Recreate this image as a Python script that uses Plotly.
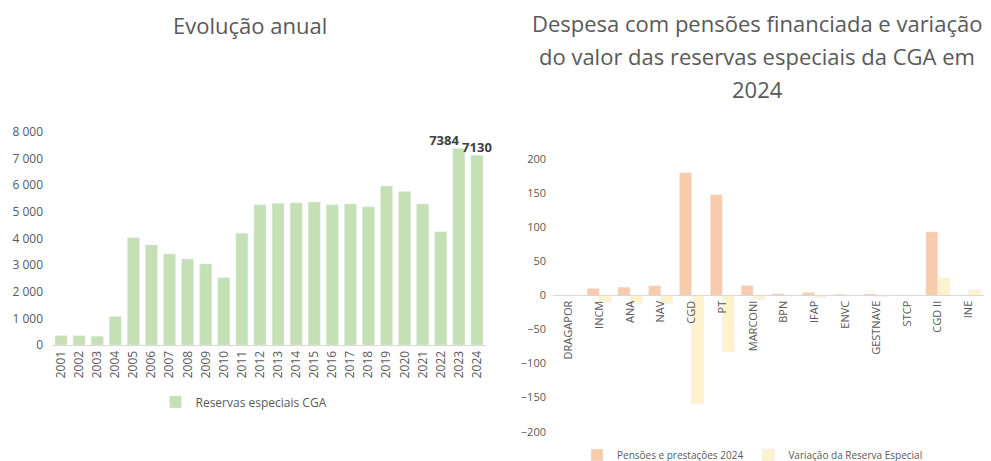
import plotly.graph_objects as go

# ---- Data ----
years = [str(y) for y in range(2001, 2025)]
reservas = [350, 350, 330, 1070, 4030, 3760, 3420, 3230, 3045, 2530, 4200, 5265,
            5325, 5340, 5375, 5265, 5300, 5190, 5975, 5765, 5300, 4250, 7384, 7130]
labelled_years = ["2023", "2024"]
label_positions = ["top left", "top center"]

entidades = ["DRAGAPOR", "INCM", "ANA", "NAV", "CGD", "PT", "MARCONI", "BPN", "IFAP",
             "ENVC", "GESTNAVE", "STCP", "CGD II", "INE"]
pensoes = [0, 10, 12, 14, 180, 147.5, 14.5, 2.4, 4, 1.5, 2, 0, 93, 0]
variacao = [0, -10, -12, -12, -159, -83, -6, -0.5, -3, -0.5, -2, 0, 25, 8]

title_left = "Evolução anual"
title_right_lines = ["Despesa com pensões financiada e variação",
                     "do valor das reservas especiais da CGA em",
                     "2024"]

GRAY = "#595959"
FONT = "Open Sans"
W, H = 991, 461

fig = go.Figure()

fig.add_trace(go.Bar(
    x=years, y=reservas, name="Reservas especiais CGA",
    marker=dict(color="#C5E0B4"), width=0.67,
    xaxis="x", yaxis="y", legend="legend",
))
lab_vals = [reservas[years.index(y)] for y in labelled_years]
fig.add_trace(go.Scatter(
    x=labelled_years, y=lab_vals, mode="text",
    text=[str(v) for v in lab_vals], textposition=label_positions,
    textfont=dict(family=FONT, size=13, color="#404040", weight="bold"),
    cliponaxis=False, showlegend=False, hoverinfo="skip",
    xaxis="x", yaxis="y",
))

fig.add_trace(go.Bar(
    x=entidades, y=pensoes, name="Pensões e prestações 2024",
    marker=dict(color="#F8CBAD"), width=0.39, offset=-0.39,
    xaxis="x2", yaxis="y2", legend="legend2",
))
fig.add_trace(go.Bar(
    x=entidades, y=variacao, name="Variação da Reserva Especial",
    marker=dict(color="#FFF2CC"), width=0.39, offset=0.0,
    xaxis="x2", yaxis="y2", legend="legend2",
))

y2_dom = [(H - 431.7) / H, (H - 159) / H]

annotations = [
    dict(text=title_left, x=250 / W, y=(H - 25) / H,
         xref="paper", yref="paper", showarrow=False, xanchor="center",
         yanchor="middle", font=dict(size=22, color=GRAY, family=FONT)),
]
for i, line in enumerate(title_right_lines):
    annotations.append(dict(
        text=line, x=757 / W, y=(H - (23 + 33 * i)) / H, xref="paper", yref="paper",
        showarrow=False, xanchor="center", yanchor="middle",
        font=dict(size=22, color=GRAY, family=FONT)))

fig.update_layout(
    width=W, height=H,
    margin=dict(l=0, r=0, t=0, b=0, autoexpand=False),
    paper_bgcolor="white", plot_bgcolor="white",
    separators=", ",
    font=dict(family=FONT, color=GRAY, size=12),
    showlegend=True,
    xaxis=dict(domain=[52 / W, 486 / W], anchor="y", tickangle=-90, automargin=False,
               range=[-0.5, len(years) - 0.5],
               showline=True, linecolor="#D9D9D9", ticks="", showgrid=False,
               tickfont=dict(size=12, color=GRAY)),
    yaxis=dict(domain=[(H - 345) / H, (H - 132) / H], anchor="x", automargin=False,
               range=[0, 8000], dtick=1000, tickformat=",d", showgrid=False,
               zeroline=False, showline=False, ticks="", ticklabelstandoff=8,
               tickfont=dict(size=12, color=GRAY)),
    xaxis2=dict(domain=[553 / W, 984 / W], anchor="free", automargin=False,
                range=[-0.5, len(entidades) - 0.5],
                position=(y2_dom[0] + y2_dom[1]) / 2, tickangle=-90,
                showline=True, linecolor="#D9D9D9", ticks="", showgrid=False,
                tickfont=dict(size=11, color=GRAY)),
    yaxis2=dict(domain=y2_dom, anchor="x2", range=[-200, 200], dtick=50,
                automargin=False, ticklabelstandoff=6,
                showgrid=False, zeroline=False, showline=False, ticks="",
                tickfont=dict(size=11, color=GRAY)),
    legend=dict(x=244 / W, y=(H - 402) / H, xanchor="center", yanchor="middle",
                orientation="h", font=dict(size=12, color=GRAY),
                bgcolor="rgba(0,0,0,0)"),
    legend2=dict(x=577 / W, y=(H - 455) / H, xanchor="left", yanchor="middle",
                 orientation="h", font=dict(size=10, color=GRAY),
                 bgcolor="rgba(0,0,0,0)"),
    annotations=annotations,
)

fig.write_html("out.html", config={"displayModeBar": False},
               post_script="document.body.style.margin='0';")
